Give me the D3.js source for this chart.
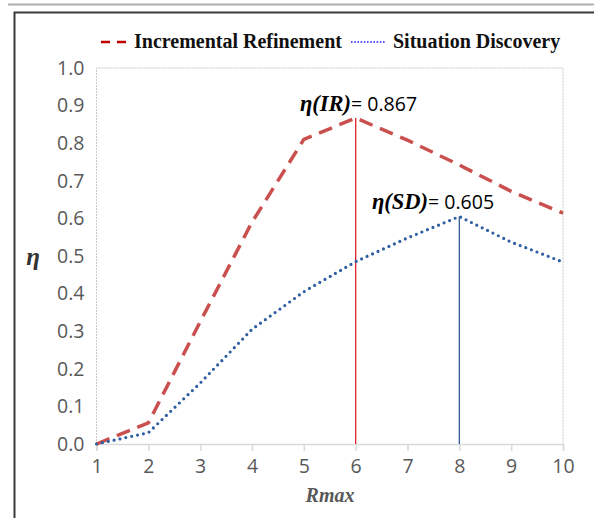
<!DOCTYPE html>
<html>
<head>
<meta charset="utf-8">
<script src="https://cdn.jsdelivr.net/npm/d3@7"></script>
<style>
  html, body { margin: 0; padding: 0; background: #fff; }
  svg { display: block; }
</style>
</head>
<body>
<svg id="chart" width="594" height="518"></svg>
<script>
// Rmax values on the x axis
const rmax = [1, 2, 3, 4, 5, 6, 7, 8, 9, 10];
// efficiency η per Rmax, one list per strategy
const incrementalRefinement = [0.0, 0.056, 0.325, 0.59, 0.81, 0.867, 0.808, 0.742, 0.672, 0.614];
const situationDiscovery   = [0.0, 0.03, 0.162, 0.305, 0.405, 0.485, 0.548, 0.605, 0.537, 0.484];
const yTicks = [0, 0.1, 0.2, 0.3, 0.4, 0.5, 0.6, 0.7, 0.8, 0.9, 1.0];
const seriesNames = ["Incremental Refinement", "Situation Discovery"];
// peaks that are marked with a drop line and a label
const peakIR = { r: 6, v: 0.867 };
const peakSD = { r: 8, v: 0.605 };

const svg = d3.select("#chart");
const serif = "'Liberation Serif', 'DejaVu Serif', serif";
const sans = "'Open Sans', 'Liberation Sans', sans-serif";

const x = d3.scaleLinear().domain([1, 10]).range([96.5, 563]);
const y = d3.scaleLinear().domain([0, 1]).range([444, 68]);

// outer frame
svg.append("line").attr("x1", 8).attr("x2", 594).attr("y1", 4.5).attr("y2", 4.5)
  .attr("stroke", "#b0b0b0").attr("stroke-width", 2);
svg.append("path").attr("d", "M594,12.5 H14.5 V518")
  .attr("fill", "none").attr("stroke", "#3a3a3a").attr("stroke-width", 2);

// plot area border
svg.append("path")
  .attr("d", `M${x(1)},${y(0)} V${y(1)} H${x(10)} V${y(0)}`)
  .attr("fill", "none").attr("stroke", "#c8c8c8").attr("stroke-width", 1)
  .attr("stroke-dasharray", "2,1");

// x axis
const xAxis = svg.append("g").attr("transform", `translate(0,${y(0)})`)
  .call(d3.axisBottom(x).tickValues(rmax).tickFormat(d3.format("d")).tickSize(7).tickPadding(8));
xAxis.select(".domain").attr("stroke", "#d9d9d9").attr("stroke-width", 1.5);
xAxis.selectAll(".tick line").attr("stroke", "#d9d9d9").attr("stroke-width", 1.5);
xAxis.selectAll(".tick text").attr("fill", "#595959").style("font-family", sans).style("font-size", "19.5px");

// y axis labels
const yAxis = svg.append("g").attr("transform", `translate(${x(1)},0)`)
  .call(d3.axisLeft(y).tickValues(yTicks).tickFormat(d3.format(".1f")).tickSize(0).tickPadding(12));
yAxis.select(".domain").remove();
yAxis.selectAll(".tick text").attr("fill", "#595959").style("font-family", sans).style("font-size", "19.5px");

// axis titles
svg.append("text").attr("x", 33).attr("y", 265).attr("text-anchor", "middle")
  .style("font-family", serif).style("font-weight", "bold").style("font-style", "italic")
  .style("font-size", "25px").attr("fill", "#333").text("η");
svg.append("text").attr("x", 330).attr("y", 502).attr("text-anchor", "middle")
  .style("font-family", serif).style("font-weight", "bold").style("font-style", "italic")
  .style("font-size", "20px").attr("fill", "#595959").text("Rmax");

// peak drop lines
svg.append("line").attr("x1", x(peakIR.r)).attr("x2", x(peakIR.r))
  .attr("y1", y(0)).attr("y2", y(peakIR.v)).attr("stroke", "#e0242a").attr("stroke-width", 1.3);
svg.append("line").attr("x1", x(peakSD.r)).attr("x2", x(peakSD.r))
  .attr("y1", y(0)).attr("y2", y(peakSD.v)).attr("stroke", "#2f5d94").attr("stroke-width", 1.3);

// series lines
const line = d3.line().x((d, i) => x(rmax[i])).y(d => y(d));
svg.append("path").datum(incrementalRefinement).attr("d", line)
  .attr("fill", "none").attr("stroke", "#c9504e").attr("stroke-width", 3.5)
  .attr("stroke-dasharray", "14,8");
svg.append("path").datum(situationDiscovery).attr("d", line)
  .attr("fill", "none").attr("stroke", "#2e5fa3").attr("stroke-width", 3.2)
  .attr("stroke-linecap", "round").attr("stroke-dasharray", "0,6");

// peak labels
function peakLabel(tx, ty, name, value) {
  const t = svg.append("text").attr("x", tx).attr("y", ty).attr("fill", "#000");
  t.append("tspan").style("font-family", serif).style("font-weight", "bold")
    .style("font-style", "italic").style("font-size", "22.5px").text("η(" + name + ")");
  t.append("tspan").style("font-family", sans).style("font-size", "19.5px").text("= " + value);
}
peakLabel(300, 111, "IR", d3.format(".3f")(peakIR.v));
peakLabel(372, 209, "SD", d3.format(".3f")(peakSD.v));

// legend
const legend = svg.append("g");
legend.append("line").attr("x1", 101).attr("x2", 127).attr("y1", 42).attr("y2", 42)
  .attr("stroke", "#c00000").attr("stroke-width", 2.5).attr("stroke-dasharray", "9,7");
legend.append("text").attr("x", 134).attr("y", 48)
  .style("font-family", serif).style("font-weight", "bold").style("font-size", "20px")
  .attr("fill", "#111").text(seriesNames[0]);
legend.append("line").attr("x1", 351).attr("x2", 386).attr("y1", 42).attr("y2", 42)
  .attr("stroke", "#1a1aff").attr("stroke-width", 1.6).attr("stroke-dasharray", "1.6,1.6");
legend.append("text").attr("x", 393).attr("y", 48)
  .style("font-family", serif).style("font-weight", "bold").style("font-size", "20px")
  .attr("fill", "#111").text(seriesNames[1]);
</script>
</body>
</html>
